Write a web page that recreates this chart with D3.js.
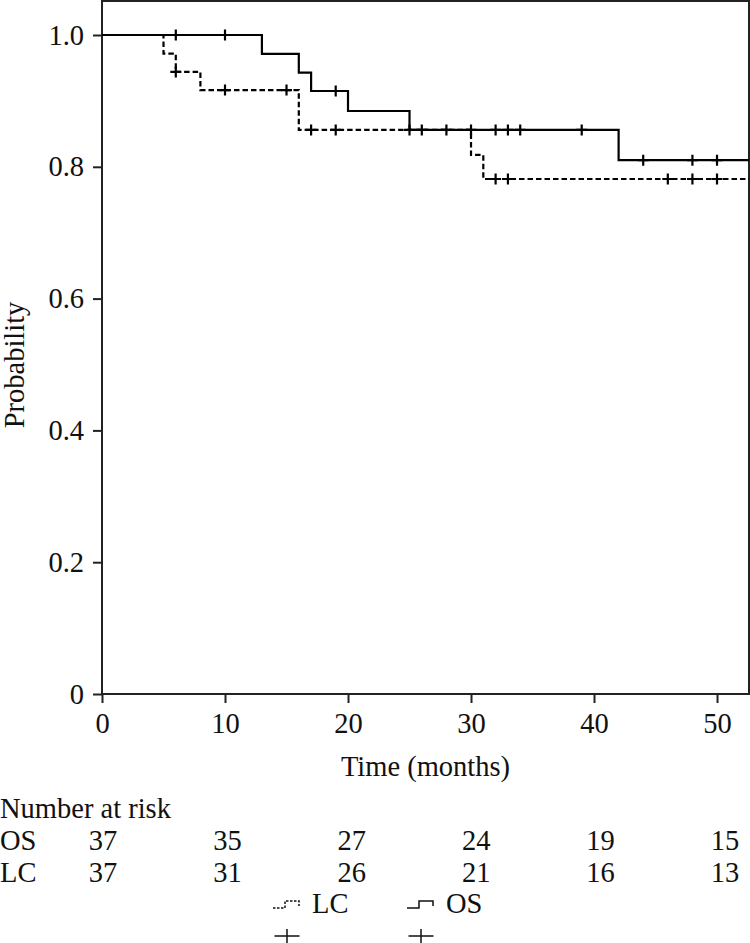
<!DOCTYPE html>
<html><head><meta charset="utf-8">
<script src="https://cdn.jsdelivr.net/npm/d3@7"></script>
<style>
body{margin:0;background:#fff}
</style>
</head><body><svg id="c" width="750" height="943"></svg>
<script>
// ---- data ----
const xTicks = [0, 10, 20, 30, 40, 50];
const yTicks = [0, 0.2, 0.4, 0.6, 0.8, 1.0];
const yTickLabels = ["0", "0.2", "0.4", "0.6", "0.8", "1.0"];
const osTimes = [0, 13, 16, 17, 20, 25, 42];
const osSurv = [1.0, 0.9714, 0.9428, 0.915, 0.8847, 0.856, 0.810];
const osCensor = [6, 10, 19, 26, 28, 30, 32, 33, 34, 39, 44, 48, 50];
const lcTimes = [0, 5, 6, 8, 16, 30, 31];
const lcSurv = [1.0, 0.9717, 0.944, 0.9165, 0.856, 0.818, 0.7815];
const lcCensor = [6, 10, 15, 17, 19, 25, 32, 33, 46, 48, 50];
const riskTimes = [0, 10, 20, 30, 40, 50];
const riskOS = [37, 35, 27, 24, 19, 15];
const riskLC = [37, 31, 26, 21, 16, 13];
const tMax = 52.6;

// ---- layout ----
const svg = d3.select("#c");
const FS = 28.5;
const FF = "Liberation Serif";
const x = d3.scaleLinear().domain([0, tMax]).range([102, 749]);
const y = d3.scaleLinear().domain([0, 1]).range([694, 35]);
const riskX = d3.scaleLinear().domain([0, 50]).range([103, 725]);

// frame
svg.append("rect").attr("x", x(0)).attr("y", 1)
  .attr("width", x(tMax) - x(0)).attr("height", y(0) - 1)
  .attr("fill", "none").attr("stroke", "#222").attr("stroke-width", 2);

// axes
const gx = svg.append("g").attr("transform", `translate(0,${y(0)})`)
  .call(d3.axisBottom(x).tickValues(xTicks).tickSize(9).tickPadding(9.5));
const gy = svg.append("g").attr("transform", `translate(${x(0)},0)`)
  .call(d3.axisLeft(y).tickValues(yTicks).tickSize(9).tickPadding(9)
    .tickFormat((d, i) => yTickLabels[i]));
[gx, gy].forEach(g => {
  g.attr("font-size", FS).attr("font-family", FF);
  g.select(".domain").remove();
  g.selectAll(".tick line").attr("stroke", "#222").attr("stroke-width", 2);
  g.selectAll(".tick text").attr("fill", "#111");
});

function txt(xp, yp, s, anchor) {
  return svg.append("text").attr("x", xp).attr("y", yp)
    .attr("text-anchor", anchor || "start").attr("font-size", FS)
    .attr("font-family", FF).attr("fill", "#111").text(s);
}

// axis titles
txt((x(0) + x(tMax)) / 2, 776, "Time (months)", "middle");
svg.append("text").attr("transform", "translate(24,365) rotate(-90)")
  .attr("text-anchor", "middle").attr("font-size", FS).attr("font-family", FF)
  .attr("fill", "#111").text("Probability");

// curves
function stepPts(times, surv) {
  const pts = times.map((t, i) => [t, surv[i]]);
  pts.push([tMax, surv[surv.length - 1]]);
  return pts;
}
function survAt(times, surv, t) {
  let v = surv[0];
  times.forEach((tt, i) => { if (tt <= t) v = surv[i]; });
  return v;
}
const line = d3.line().x(d => x(d[0])).y(d => y(d[1])).curve(d3.curveStepAfter);

svg.append("path").datum(stepPts(lcTimes, lcSurv)).attr("d", line)
  .attr("fill", "none").attr("stroke", "#000").attr("stroke-width", 2.2)
  .attr("stroke-dasharray", "5.5,3");
svg.append("path").datum(stepPts(osTimes, osSurv)).attr("d", line)
  .attr("fill", "none").attr("stroke", "#000").attr("stroke-width", 2.2);

function crosses(cens, times, surv) {
  const h = 5.5;
  svg.append("g").selectAll("path").data(cens).join("path")
    .attr("d", t => {
      const cx = x(t), cy = y(survAt(times, surv, t));
      return `M${cx - h},${cy}H${cx + h}M${cx},${cy - h}V${cy + h}`;
    })
    .attr("stroke", "#000").attr("stroke-width", 2.2).attr("fill", "none");
}
crosses(lcCensor, lcTimes, lcSurv);
crosses(osCensor, osTimes, osSurv);

// number at risk
txt(0, 818, "Number at risk");
txt(0, 850, "OS");
txt(0, 882, "LC");
riskOS.forEach((d, i) => txt(riskX(riskTimes[i]), 850, d, "middle"));
riskLC.forEach((d, i) => txt(riskX(riskTimes[i]), 882, d, "middle"));

// legend
const leg = [
  {name: "LC", x0: 273, dash: "2.5,1.5"},
  {name: "OS", x0: 407, dash: null}
];
leg.forEach(L => {
  svg.append("path")
    .attr("d", `M${L.x0},908H${L.x0 + 12}V901H${L.x0 + 26}V906`)
    .attr("fill", "none").attr("stroke", "#111").attr("stroke-width", 1.5)
    .attr("stroke-dasharray", L.dash);
  txt(L.x0 + 39, 913, L.name);
  const cx = L.x0 + 14;
  svg.append("path")
    .attr("d", `M${cx - 12.5},936H${cx + 12.5}M${cx},929V943`)
    .attr("stroke", "#111").attr("stroke-width", 1.5).attr("fill", "none");
});
</script>
</body></html>
